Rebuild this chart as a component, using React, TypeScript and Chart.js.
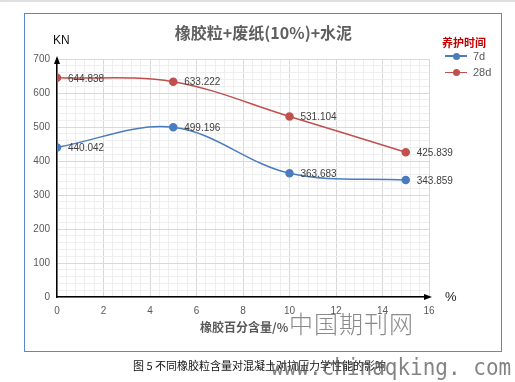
import React, { useEffect, useRef } from "react";
import { Chart, registerables } from "chart.js";

Chart.register(...registerables);

const xValues = [0, 5, 10, 15];
const series7d = [440.042, 499.196, 363.683, 343.859];
const series28d = [644.838, 633.222, 531.104, 425.839];
const seriesNames = ["7d", "28d"];
const seriesColors = ["#4a7dc0", "#c0504d"];
const xMin = 0, xMax = 16, xMinorStep = 0.4, xMajorStep = 2;
const yMin = 0, yMax = 700, yMinorStep = 20, yMajorStep = 100;

const labelPlugin = {
  id: "pointLabels",
  afterDatasetsDraw(chart: any) {
    const ctx = chart.ctx;
    ctx.save();
    ctx.font = "10px 'Liberation Sans', Arial, sans-serif";
    ctx.fillStyle = "#404040";
    ctx.textBaseline = "middle";
    ctx.textAlign = "left";
    chart.data.datasets.forEach((ds: any, i: number) => {
      const meta = chart.getDatasetMeta(i);
      meta.data.forEach((pt: any, j: number) => {
        const v = ds.data[j].y;
        ctx.fillText(v.toFixed(3), pt.x + 11, pt.y + 1);
      });
    });
    ctx.restore();
  },
  afterDraw(chart: any) {
    const ctx = chart.ctx;
    const a = chart.chartArea;
    ctx.save();
    ctx.fillStyle = "#000";
    ctx.beginPath();
    ctx.moveTo(a.left, a.top - 3);
    ctx.lineTo(a.left - 3, a.top + 5);
    ctx.lineTo(a.left + 3, a.top + 5);
    ctx.closePath();
    ctx.fill();
    ctx.beginPath();
    ctx.moveTo(a.right + 3, a.bottom);
    ctx.lineTo(a.right - 5, a.bottom - 3);
    ctx.lineTo(a.right - 5, a.bottom + 3);
    ctx.closePath();
    ctx.fill();
    ctx.restore();
  },
};

function isMultiple(v: number, m: number) {
  const r = Math.round(v / m);
  return Math.abs(v / m - r) < 1e-6;
}

export default function App() {
  const ref = useRef<HTMLCanvasElement>(null);
  useEffect(() => {
    if (!ref.current) return;
    const mk = (vals: number[]) => xValues.map((x, i) => ({ x, y: vals[i] }));
    const chart = new Chart(ref.current, {
      type: "line",
      data: {
        datasets: [
          {
            label: seriesNames[0],
            data: mk(series7d),
            borderColor: seriesColors[0],
            backgroundColor: seriesColors[0],
            borderWidth: 1.5,
            pointRadius: 3.5,
            tension: 0.35,
          },
          {
            label: seriesNames[1],
            data: mk(series28d),
            borderColor: seriesColors[1],
            backgroundColor: seriesColors[1],
            borderWidth: 1.5,
            pointRadius: 3.5,
            tension: 0.35,
          },
        ],
      },
      options: {
        responsive: false,
        animation: false,
        devicePixelRatio: 1,
        layout: { padding: { top: 45, right: 72, left: 0, bottom: 0 } },
        plugins: { legend: { display: false }, tooltip: { enabled: false } },
        scales: {
          x: {
            type: "linear",
            min: xMin,
            max: xMax,
            afterFit: (s: any) => { s.height = 54; },
            ticks: {
              stepSize: xMinorStep,
              autoSkip: false,
              maxRotation: 0,
              padding: 8,
              color: "#595959",
              font: { size: 10, family: "'Liberation Sans', Arial, sans-serif" },
              callback: (v: any) => (isMultiple(Number(v), xMajorStep) ? String(Math.round(Number(v))) : ""),
            },
            grid: {
              drawTicks: false,
              color: (c: any) => (c.tick && isMultiple(c.tick.value, xMajorStep) ? "#d9d9d9" : "#efefef"),
            },
            border: { color: "#000", width: 1.5 },
          },
          y: {
            type: "linear",
            min: yMin,
            max: yMax,
            afterFit: (s: any) => { s.width = 32; },
            ticks: {
              stepSize: yMinorStep,
              autoSkip: false,
              padding: 7,
              color: "#595959",
              font: { size: 10, family: "'Liberation Sans', Arial, sans-serif" },
              callback: (v: any) => (isMultiple(Number(v), yMajorStep) ? String(Math.round(Number(v))) : ""),
            },
            grid: {
              drawTicks: false,
              color: (c: any) => (c.tick && isMultiple(c.tick.value, yMajorStep) ? "#d9d9d9" : "#efefef"),
            },
            border: { color: "#000", width: 1.5 },
          },
        },
      },
      plugins: [labelPlugin],
    } as any);
    return () => chart.destroy();
  }, []);

  const cjk = "'Noto Sans CJK SC', 'Noto Sans', sans-serif";
  const abs = (o: any): React.CSSProperties => ({ position: "absolute", whiteSpace: "nowrap", lineHeight: 1, ...o });

  return (
    <div style={{ position: "fixed", left: 0, top: 0, width: 515, height: 382, background: "#fff", overflow: "hidden", fontFamily: cjk }}>
      <div style={abs({ left: 0, top: 0, width: 515, height: 2, background: "#e0e0e0" })} />
      <div style={abs({ left: 24, top: 13, width: 476, height: 337, border: "1px solid #5a88c8" })} />
      <canvas ref={ref} width={476} height={337} style={{ position: "absolute", left: 25, top: 14, width: 476, height: 337 }} />
      <div style={abs({ left: 0, width: 527, top: 24, textAlign: "center", fontSize: 16, fontWeight: "bold", color: "#5f5f5f" })}>橡胶粒+废纸(10%)+水泥</div>
      <div style={abs({ left: 53, top: 34, fontSize: 12, color: "#111", fontFamily: "'Liberation Sans', Arial, sans-serif" })}>KN</div>
      <div style={abs({ left: 445, top: 290, fontSize: 13, color: "#222", fontFamily: "'Liberation Sans', Arial, sans-serif" })}>%</div>
      <div style={abs({ left: 442, top: 37, fontSize: 11, fontWeight: "bold", color: "#c00000" })}>养护时间</div>
      {seriesNames.map((n, i) => (
        <React.Fragment key={n}>
          <div style={abs({ left: 445, top: 55 + i * 16.5, width: 22, height: 1.5, background: seriesColors[i] })} />
          <div style={abs({ left: 452.5, top: 52.5 + i * 16.5, width: 7, height: 7, borderRadius: "50%", background: seriesColors[i] })} />
          <div style={abs({ left: 473, top: 50.5 + i * 16.5, fontSize: 11, color: "#595959", fontFamily: "'Liberation Sans', Arial, sans-serif" })}>{n}</div>
        </React.Fragment>
      ))}
      <div style={abs({ left: 200, top: 321, fontSize: 12, fontWeight: "bold", color: "#595959" })}>橡胶百分含量/%</div>
      <div style={abs({ left: 289, top: 311, fontSize: 24, fontWeight: 300, color: "#8a8a8a", letterSpacing: 1 })}>中国期刊网</div>
      <div style={abs({ left: 133, top: 360, fontSize: 11, color: "#111" })}>图 5 不同橡胶粒含量对混凝土对抗压力学性能的影响</div>
      <div style={abs({ left: 271, top: 356, fontSize: 21, color: "rgba(90,90,90,0.75)", fontFamily: "'DejaVu Sans Mono', monospace", transform: "scaleY(1.1)", transformOrigin: "left top" })}>www.chinaqking. com</div>
    </div>
  );
}
